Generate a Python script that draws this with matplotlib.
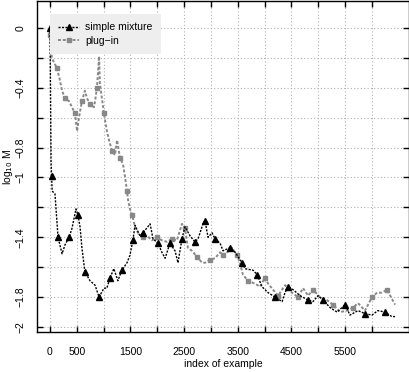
import numpy as np
import matplotlib
matplotlib.use("Agg")
import matplotlib.pyplot as plt

# values (index of example, log10 M)
mix_idx = [0, 10, 20, 30, 40, 93, 150, 225, 280, 355, 410, 485, 520, 560, 595, 650,
           745, 840, 915, 1005, 1060, 1120, 1190, 1265, 1340, 1435, 1490, 1545, 1585,
           1675, 1735, 1865, 1920, 2015, 2085, 2145, 2235, 2330, 2385, 2460, 2515,
           2610, 2700, 2760, 2850, 2890, 2945, 3020, 3075, 3170, 3225, 3355, 3450,
           3505, 3580, 3635, 3785, 3860, 3950, 4065, 4195, 4325, 4380, 4435, 4530,
           4660, 4810, 4900, 4995, 5090, 5220, 5350, 5500, 5590, 5740, 5870, 6000,
           6110, 6245, 6370, 6430]
mix_val = [0.00, -0.45, -0.90, -0.99, -1.09, -1.11, -1.40, -1.51, -1.45, -1.40, -1.34,
           -1.21, -1.25, -1.33, -1.47, -1.63, -1.69, -1.72, -1.80, -1.74, -1.74, -1.67,
           -1.61, -1.69, -1.62, -1.57, -1.52, -1.42, -1.32, -1.39, -1.37, -1.31, -1.41,
           -1.44, -1.50, -1.54, -1.44, -1.49, -1.57, -1.41, -1.33, -1.39, -1.43, -1.41,
           -1.31, -1.29, -1.40, -1.37, -1.41, -1.44, -1.49, -1.47, -1.50, -1.53, -1.57,
           -1.61, -1.62, -1.65, -1.73, -1.77, -1.80, -1.83, -1.77, -1.73, -1.75, -1.79,
           -1.82, -1.83, -1.79, -1.82, -1.87, -1.90, -1.85, -1.92, -1.89, -1.91, -1.92,
           -1.89, -1.90, -1.93, -1.93]

plug_idx = [0, 20, 35, 130, 185, 225, 280, 355, 410, 465, 505, 540, 595, 650, 690, 745,
            820, 840, 875, 915, 930, 1005, 1060, 1100, 1155, 1210, 1250, 1305, 1360,
            1400, 1435, 1455, 1490, 1530, 1585, 1640, 1735, 1810, 1900, 1995, 2085,
            2180, 2275, 2365, 2460, 2515, 2570, 2645, 2740, 2835, 2890, 2980, 3075,
            3170, 3225, 3300, 3390, 3485, 3540, 3595, 3690, 3820, 3915, 4005, 4065,
            4155, 4250, 4380, 4510, 4620, 4715, 4810, 4900, 5030, 5160, 5275, 5405,
            5535, 5645, 5740, 5870, 6000, 6095, 6185, 6280, 6370, 6430]
plug_val = [-0.05, -0.12, -0.20, -0.27, -0.35, -0.42, -0.47, -0.49, -0.53, -0.57, -0.69,
            -0.60, -0.49, -0.42, -0.47, -0.51, -0.53, -0.49, -0.40, -0.19, -0.37, -0.57,
            -0.69, -0.75, -0.82, -0.85, -0.75, -0.87, -0.91, -1.00, -1.09, -1.15, -1.21,
            -1.25, -1.33, -1.37, -1.40, -1.39, -1.42, -1.40, -1.42, -1.43, -1.41, -1.42,
            -1.31, -1.34, -1.47, -1.49, -1.53, -1.57, -1.57, -1.55, -1.54, -1.50, -1.52,
            -1.50, -1.47, -1.52, -1.57, -1.65, -1.69, -1.71, -1.73, -1.67, -1.71, -1.75,
            -1.79, -1.72, -1.77, -1.80, -1.74, -1.79, -1.75, -1.80, -1.82, -1.85, -1.90,
            -1.89, -1.87, -1.84, -1.89, -1.80, -1.77, -1.77, -1.75, -1.81, -1.85]

xticks = np.arange(0, 6001, 500)
xlabels = ['0', '500', '', '1500', '', '2500', '', '3500', '', '4500', '', '5500', '']
yticks = np.arange(-2.0, 0.01, 0.2)
ylabel_map = {0: '0', -4: '\u22120.4', -8: '\u22120.8', -10: '\u22121',
              -14: '\u22121.4', -18: '\u22121.8', -20: '\u22122'}
ylabels = [ylabel_map.get(int(round(v * 10)), '') for v in yticks]

plt.rcParams['font.family'] = ['Liberation Sans', 'DejaVu Sans']
plt.rcParams['font.size'] = 7.5

fig = plt.figure(figsize=(4.1, 3.72), dpi=100)
ax = fig.add_axes([37/410, 40/372, 372/410, 331/372])

ax.plot(mix_idx, mix_val, color='black', lw=1, ls=(0, (1.5, 1)),
        marker='^', ms=4, markevery=3, label='simple mixture', zorder=3)
ax.plot(plug_idx, plug_val, color='#888888', lw=1.4, ls=(0, (1.5, 1)),
        marker='s', ms=3.5, markevery=3, label='plug\u2212in', zorder=2)

ax.set_xlim(-242, 6690)
ax.set_ylim(-2.033, 0.18)
ax.set_xticks(xticks)
ax.set_xticklabels(xlabels)
ax.set_yticks(yticks)
ax.set_yticklabels(ylabels, rotation=90, va='center')
ax.tick_params(direction='in', length=4.5, width=1, top=True, right=True,
               labeltop=False, labelright=False)
ax.tick_params(axis='x', pad=11)
ax.tick_params(axis='y', pad=8)
ax.grid(True, color='#b0b0b0', ls=(0, (1, 2)), lw=0.8)
ax.set_axisbelow(True)
for s in ax.spines.values():
    s.set_linewidth(1)

ax.set_xlabel('index of example', labelpad=1)
ax.set_ylabel(r'log$_{10}$ M')
ax.yaxis.set_label_coords(-0.058, 0.5)

leg = ax.legend(loc='upper left', bbox_to_anchor=(0.035, 0.961), frameon=True,
                fancybox=False, borderaxespad=0, handlelength=2.0, handletextpad=0.6,
                borderpad=0.8, labelspacing=0.35)
leg.get_frame().set_facecolor('#eeeeee')
leg.get_frame().set_edgecolor('none')
leg.get_frame().set_alpha(1)

fig.savefig('out.png', dpi=100)
